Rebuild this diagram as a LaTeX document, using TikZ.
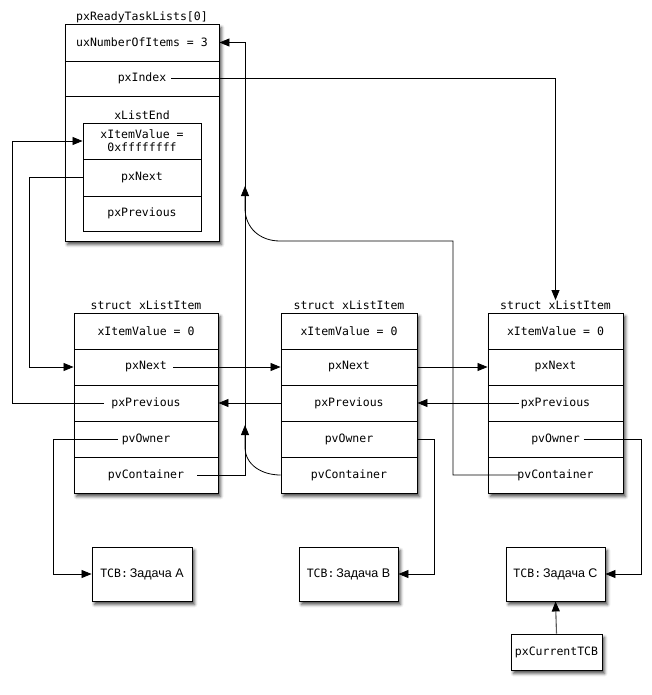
\documentclass[tikz,border=0pt]{standalone}
\usepackage{fontspec}
\setmonofont{DejaVu Sans Mono}
\newfontfamily\cyrfont{Liberation Sans}
\usetikzlibrary{arrows.meta,shadows.blur}

\begin{document}
\begin{tikzpicture}[x=1pt,y=-1pt,
	every node/.style={font=\ttfamily\fontsize{11.5}{13}\selectfont, inner sep=0pt},
	frame/.style={draw, line width=0.9pt, fill=white,
		blur shadow={shadow xshift=2.5pt, shadow yshift=-3.5pt, shadow blur radius=3pt, shadow opacity=70}},
	row/.style={draw, line width=0.9pt},
	link/.style={line width=0.8pt, -{Triangle[length=10pt,width=8pt,color=black]}}]
	\useasboundingbox (0,0) rectangle (652,695);

	% the ready list
	\node[frame, minimum width=154, minimum height=217] (list) at (142,132.5) {};
	\node[anchor=base] (listTitle) at (142,21) {pxReadyTaskLists[0]};
	\node[row, minimum width=154, minimum height=37] (listCount) at (142,42.5) {uxNumberOfItems = 3};
	\node[row, minimum width=154, minimum height=35] (listIdx) at (142,78.5) {pxIndex};
	\node[anchor=base] (endTitle) at (142,120) {xListEnd};
	\node[row, minimum width=118, minimum height=36, align=center] (lValue) at (142,141) {xItemValue =\\0xffffffff};
	\node[row, minimum width=118, minimum height=37] (lNext) at (142,177.5) {pxNext};
	\node[row, minimum width=118, minimum height=35] (lPrev) at (142,213.5) {pxPrevious};

	% list items
	\foreach \p/\cx/\w in {a/146/144, b/349/136, c/555.5/135} {
		\node[frame, minimum width=\w, minimum height=180] (\p Item) at (\cx,403) {};
		\node[anchor=base] (\p Title) at (\cx,309) {struct xListItem};
		\node[row, minimum width=\w, minimum height=36] (\p Value) at (\cx,331) {xItemValue = 0};
		\node[row, minimum width=\w, minimum height=36] (\p Next) at (\cx,367) {pxNext};
		\node[row, minimum width=\w, minimum height=36] (\p Prev) at (\cx,403) {pxPrevious};
		\node[row, minimum width=\w, minimum height=36] (\p Owner) at (\cx,439) {pvOwner};
		\node[row, minimum width=\w, minimum height=36] (\p Cont) at (\cx,475) {pvContainer};
	}

	% TCBs
	\node[frame, minimum width=100, minimum height=54] (tcbA) at (142,574) {TCB:\,{\cyrfont\fontsize{12.5}{14}\selectfont Задача A}};
	\node[frame, minimum width=99, minimum height=54] (tcbB) at (348.5,574) {TCB:\,{\cyrfont\fontsize{12.5}{14}\selectfont Задача B}};
	\node[frame, minimum width=99, minimum height=54] (tcbC) at (555.5,574) {TCB:\,{\cyrfont\fontsize{12.5}{14}\selectfont Задача C}};
	\node[frame, minimum width=91, minimum height=36] (cur) at (556.5,652) {pxCurrentTCB};

	% links
	\draw[link] ([xshift=29pt]listIdx.center) -| (cTitle.north);
	\draw[link] (lNext.west) -- ++(-53,0) |- (aNext.west);
	\draw[link] ([xshift=-42pt]aPrev.center) -- ++(-92,0) |- (lValue.west);
	\draw[link] ([xshift=27pt]aNext.center) -- (bNext.west);
	\draw[link] (bPrev.west) -- (aPrev.east);
	\draw[link] (bNext.east) -- (cNext.west);
	\draw[link] ([xshift=-37pt]cPrev.center) -- (bPrev.east);
	\draw[link] ([xshift=-28pt]aOwner.center) -- ++(-65,0) |- (tcbA.west);
	\draw[link] (bOwner.east) -- ++(17,0) |- (tcbB.east);
	\draw[link] ([xshift=28pt]cOwner.center) -- ++(58,0) |- (tcbC.east);
	\draw[link] ([xshift=51pt]aCont.center) -- ++(48,0) |- (listCount.east);
	\coordinate (bJoin) at (245,425);
	\coordinate (cJoin) at (245,186);
	\draw[link] (bCont.west) .. controls (262,475) and (245,465) .. (245,447) -- (bJoin);
	\draw[link] ([xshift=-36.5pt]cCont.center) -- ++(-66,0) |- (280,241)
		.. controls (260,241) and (245,228) .. (245,208) -- (cJoin);
	\draw[link, draw=black!65, line width=1.1pt] (cur.north) -- (tcbC.south);
\end{tikzpicture}
\end{document}
